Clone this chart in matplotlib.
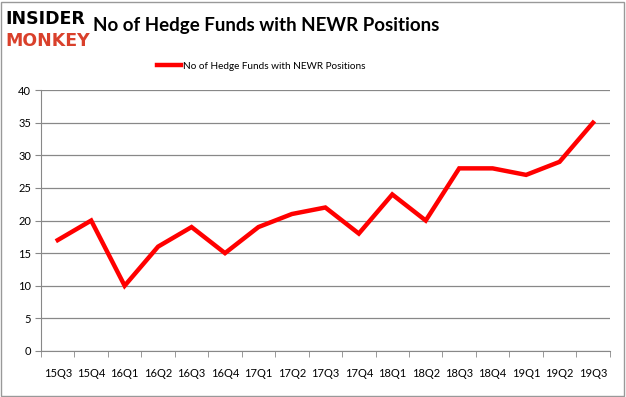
import matplotlib.pyplot as plt
import numpy as np

quarters = ['15Q3', '15Q4', '16Q1', '16Q2', '16Q3', '16Q4', '17Q1', '17Q2', '17Q3',
            '17Q4', '18Q1', '18Q2', '18Q3', '18Q4', '19Q1', '19Q2', '19Q3']
funds = [17, 20, 10, 16, 19, 15, 19, 21, 22, 18, 24, 20, 28, 28, 27, 29, 35]
yticks = [0, 5, 10, 15, 20, 25, 30, 35, 40]

plt.rcParams['font.family'] = ['Lato', 'DejaVu Sans']

fig = plt.figure(figsize=(6.26, 3.97), dpi=100)
ax = fig.add_axes([0.0655, 0.116, 0.9085, 0.657])

x = np.arange(len(quarters))
ax.plot(x, funds, color='#ff0000', lw=3.2, solid_joinstyle='miter',
        label='No of Hedge Funds with NEWR Positions')

ax.set_xlim(-0.5, len(quarters) - 0.5)
ax.set_ylim(0, 40)
ax.set_yticks(yticks)
ax.set_xticks(x)
ax.set_xticklabels(quarters, fontsize=8)
ax.tick_params(axis='x', which='major', length=0, pad=12)
ax.set_xticks(np.arange(-0.5, len(quarters)), minor=True)
ax.tick_params(axis='x', which='minor', length=4, color='#888888')
ax.tick_params(axis='y', length=4, color='#888888', labelsize=8, pad=3)
ax.grid(axis='y', color='#888888', lw=0.9)
ax.set_axisbelow(True)
for s in ['top', 'right']:
    ax.spines[s].set_visible(False)
for s in ['left', 'bottom']:
    ax.spines[s].set_color('#888888')

ax.legend(loc='lower center', bbox_to_anchor=(0.387, 1.04), frameon=False,
          fontsize=7.2, handlelength=2.4, handletextpad=0.15)

# titulo e logo
fig.text(0.149, 0.935, 'No of Hedge Funds with NEWR Positions', fontsize=13.5,
         fontweight='bold', va='center', ha='left')
fig.text(0.008, 0.953, 'INSIDER', fontsize=12.5, fontweight='heavy', color='black',
         va='center', ha='left', family='DejaVu Sans')
fig.text(0.008, 0.897, 'MONKEY', fontsize=12.5, fontweight='heavy', color='#d9402b',
         va='center', ha='left', family='DejaVu Sans')

# borda cinza da figura
fig.patches.append(plt.Rectangle((0.002, 0.003), 0.995, 0.993, transform=fig.transFigure,
                                 fill=False, edgecolor='#999999', lw=1))

fig.savefig('out.png', dpi=100)
